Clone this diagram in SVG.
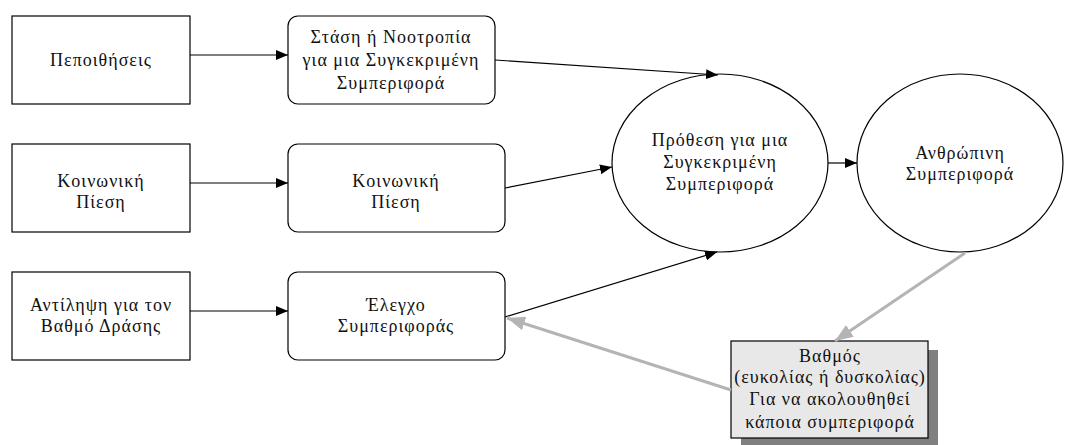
<svg xmlns="http://www.w3.org/2000/svg" width="1066" height="445" viewBox="0 0 1066 445">
<defs>
<marker id="ah" markerWidth="12" markerHeight="10" refX="12" refY="5" orient="auto" markerUnits="userSpaceOnUse">
<path d="M0,0 L12,5 L0,10 Z" fill="#000"/>
</marker>
<marker id="ahg" markerWidth="18" markerHeight="14" refX="18" refY="7" orient="auto" markerUnits="userSpaceOnUse">
<path d="M0,0 L18,7 L0,14 Z" fill="#b4b4b4"/>
</marker>
</defs>
<style>
.box{fill:#fff;stroke:#000;stroke-width:1.2}
.t{font-family:"Liberation Serif","DejaVu Serif",serif;font-size:18px;letter-spacing:1px;fill:#111;text-anchor:middle}
.c{stroke:#000;stroke-width:1.2;fill:none;marker-end:url(#ah)}
.g{stroke:#b4b4b4;stroke-width:3;fill:none;marker-end:url(#ahg)}
</style>
<rect width="1066" height="445" fill="#fff"/>
<g id="beliefs">
<rect class="box" x="12" y="16" width="178" height="88"/>
<text class="t" x="101" y="66">Πεποιθήσεις</text>
</g>
<g id="social1">
<rect class="box" x="12" y="144" width="178" height="88"/>
<text class="t" x="101" y="187">Κοινωνική</text>
<text class="t" x="101" y="208">Πίεση</text>
</g>
<g id="perception">
<rect class="box" x="12" y="272" width="178" height="88"/>
<text class="t" x="101" y="311">Αντίληψη για τον</text>
<text class="t" x="101" y="332">Βαθμό Δράσης</text>
</g>
<g id="attitude">
<rect class="box" x="288" y="16" width="207" height="88" rx="10"/>
<text class="t" x="391" y="43">Στάση ή Νοοτροπία</text>
<text class="t" x="391" y="66">για μια Συγκεκριμένη</text>
<text class="t" x="391" y="89">Συμπεριφορά</text>
</g>
<g id="social2">
<rect class="box" x="288" y="144" width="217" height="88" rx="10"/>
<text class="t" x="396" y="187">Κοινωνική</text>
<text class="t" x="396" y="208">Πίεση</text>
</g>
<g id="control">
<rect class="box" x="288" y="272" width="217" height="88" rx="10"/>
<text class="t" x="396" y="311">Έλεγχο</text>
<text class="t" x="396" y="332">Συμπεριφοράς</text>
</g>
<g id="intention">
<ellipse class="box" cx="720" cy="163" rx="108" ry="89"/>
<text class="t" x="720" y="146">Πρόθεση για μια</text>
<text class="t" x="720" y="168">Συγκεκριμένη</text>
<text class="t" x="720" y="190">Συμπεριφορά</text>
</g>
<g id="behavior">
<ellipse class="box" cx="960" cy="163" rx="103" ry="89"/>
<text class="t" x="960" y="159">Ανθρώπινη</text>
<text class="t" x="960" y="180">Συμπεριφορά</text>
</g>
<g id="degree">
<rect x="741" y="350" width="197" height="97" fill="#808080"/>
<rect x="731" y="341" width="197" height="97" fill="#e8e8e8" stroke="#000" stroke-width="1.2"/>
<text class="t" x="830" y="362">Βαθμός</text>
<text class="t" x="830" y="383">(ευκολίας ή δυσκολίας)</text>
<text class="t" x="830" y="405">Για να ακολουθηθεί</text>
<text class="t" x="830" y="428">κάποια συμπεριφορά</text>
</g>
<g id="connectors">
<line class="c" x1="190" y1="55" x2="288" y2="55"/>
<line class="c" x1="190" y1="183" x2="288" y2="183"/>
<line class="c" x1="190" y1="311" x2="288" y2="311"/>
<line class="c" x1="495" y1="60" x2="718" y2="75"/>
<line class="c" x1="505" y1="188" x2="612" y2="167"/>
<line class="c" x1="505" y1="317" x2="717" y2="252"/>
<line class="c" x1="828" y1="163" x2="857" y2="163"/>
<line class="g" x1="965" y1="253" x2="835" y2="341"/>
<line class="g" x1="731" y1="390" x2="507" y2="318"/>
</g>
</svg>
